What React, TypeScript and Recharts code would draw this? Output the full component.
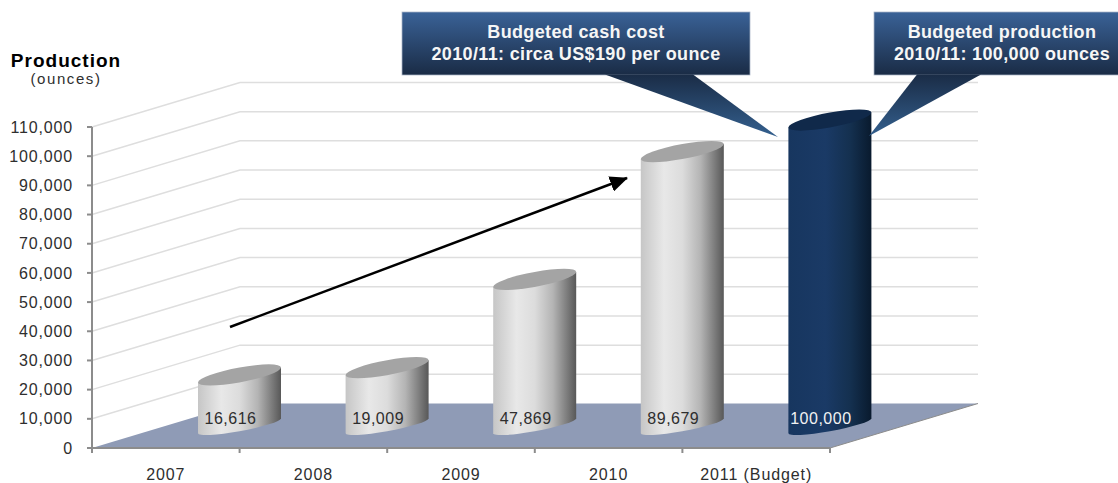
import { Bar, ComposedChart, LabelList, ReferenceLine, XAxis, YAxis } from 'recharts';

const years = ['2007', '2008', '2009', '2010', '2011 (Budget)'];
const productionOunces = [16616, 19009, 47869, 89679, 100000];
const ounceTicks = [0, 10000, 20000, 30000, 40000, 50000, 60000, 70000, 80000, 90000, 100000, 110000];

const chartData = years.map((year, i) => ({ year, ounces: productionOunces[i] }));

const WIDTH = 1118;
const HEIGHT = 483;
const PLOT_LEFT = 92;
const PLOT_TOP = 127;
const PLOT_RIGHT = 830;
const PLOT_BOTTOM = 448;

// how far the back wall sits behind the front plane
const DEPTH_X = 148;
const DEPTH_Y = -44.5;
// columns stand halfway into the floor
const COLUMN_SHEAR = 15 / 83;
const BASE_RY = 5.5;
const CAP_RY = 7.5;

const AXIS_COLOR = '#8c8c8c';
const GRID_COLOR = '#dedede';
const TEXT_COLOR = '#2e2e2e';
const FONT = '"Liberation Sans", Arial, sans-serif';
const BAND = (PLOT_RIGHT - PLOT_LEFT) / years.length;

const WallLine = ({ x1, x2, y1 }: any) => (
  <polyline
    points={`${x1},${y1} ${x1 + DEPTH_X},${y1 + DEPTH_Y} ${x2 + DEPTH_X},${y1 + DEPTH_Y}`}
    fill="none"
    stroke={GRID_COLOR}
    strokeWidth={1.5}
  />
);

const Floor = ({ x1, x2, y1 }: any) => (
  <g>
    <polygon
      points={`${x1},${y1} ${x2},${y1} ${x2 + DEPTH_X},${y1 + DEPTH_Y} ${x1 + DEPTH_X},${y1 + DEPTH_Y}`}
      fill="#8f9bb6"
    />
    <line x1={x2} y1={y1} x2={x2 + DEPTH_X} y2={y1 + DEPTH_Y} stroke={AXIS_COLOR} strokeWidth={1} />
  </g>
);

const Cylinder = ({ x, y, width, height, index }: any) => {
  const budget = index === years.length - 1;
  const a = width / 2;
  const cx = x + a + DEPTH_X / 2;
  const base = y + height + DEPTH_Y / 2;
  return (
    <g transform={`matrix(1,${-COLUMN_SHEAR},0,1,${cx},${base})`}>
      <path
        d={`M${-a},${-height} L${-a},0 A${a},${BASE_RY} 0 0 0 ${a},0 L${a},${-height} Z`}
        fill={budget ? 'url(#navyBody)' : 'url(#greyBody)'}
      />
      <ellipse cx={0} cy={-height} rx={a} ry={CAP_RY} fill={budget ? '#10294a' : '#a4a4a4'} />
    </g>
  );
};

const ValueLabel = ({ x, y, width, height, value, index }: any) => (
  <text
    x={x + width / 2 + DEPTH_X / 2 - 9}
    y={y + height - 24}
    textAnchor="middle"
    fontFamily={FONT}
    fontSize={16}
    letterSpacing={0.5}
    fill={index === years.length - 1 ? '#f2f2f2' : TEXT_COLOR}
  >
    {Number(value).toLocaleString('en-US')}
  </text>
);

const YearTick = ({ x, y, payload, index }: any) => (
  <g>
    <line x1={x - BAND / 2} y1={y} x2={x - BAND / 2} y2={y + 5} stroke={AXIS_COLOR} strokeWidth={2} />
    {index === years.length - 1 && (
      <line x1={x + BAND / 2} y1={y} x2={x + BAND / 2} y2={y + 5} stroke={AXIS_COLOR} strokeWidth={2} />
    )}
    <text x={x} y={y + 32} textAnchor="middle" fontFamily={FONT} fontSize={16} letterSpacing={0.9} fill={TEXT_COLOR}>
      {payload.value}
    </text>
  </g>
);

// box and pointer share one fill so the shading runs through both
const Callout = ({ id, x, width, tail, tip, lines, textX }: any) => (
  <g>
    <defs>
      <linearGradient id={id} gradientUnits="userSpaceOnUse" x1={0} y1={12} x2={0} y2={137}>
        <stop offset="0" stopColor="#3a6297" />
        <stop offset="0.5" stopColor="#1a2c46" />
        <stop offset="1" stopColor="#34608f" />
      </linearGradient>
    </defs>
    <rect x={x} y={12} width={width} height={63} fill={`url(#${id})`} stroke="#a9b6c7" strokeWidth={0.75} />
    <polygon points={`${tail[0]},74.5 ${tail[1]},74.5 ${tip[0]},${tip[1]}`} fill={`url(#${id})`} />
    {lines.map((line: string, i: number) => (
      <text
        key={line}
        x={textX}
        y={38 + i * 22}
        textAnchor="middle"
        fontFamily={FONT}
        fontSize={18}
        fontWeight="bold"
        letterSpacing={0.35}
        fill="#f6f6f6"
      >
        {line}
      </text>
    ))}
  </g>
);

export default function App() {
  return (
    <div style={{ position: 'absolute', left: 0, top: 0, width: WIDTH, height: HEIGHT, background: '#fff', overflow: 'hidden' }}>
      <ComposedChart
        width={WIDTH}
        height={HEIGHT}
        data={chartData}
        margin={{ top: PLOT_TOP, right: WIDTH - PLOT_RIGHT, bottom: 0, left: 0 }}
      >
        <defs>
          <linearGradient id="greyBody" x1="0" y1="0" x2="1" y2="0">
            <stop offset="0" stopColor="#c6c6c6" />
            <stop offset="0.28" stopColor="#e8e8e8" />
            <stop offset="0.5" stopColor="#dcdcdc" />
            <stop offset="0.72" stopColor="#b4b4b4" />
            <stop offset="1" stopColor="#585858" />
          </linearGradient>
          <linearGradient id="navyBody" x1="0" y1="0" x2="1" y2="0">
            <stop offset="0" stopColor="#17365f" />
            <stop offset="0.45" stopColor="#1a3a66" />
            <stop offset="0.75" stopColor="#14304f" />
            <stop offset="1" stopColor="#091a2e" />
          </linearGradient>
        </defs>
        {ounceTicks.map((t) =>
          t === 0 ? null : <ReferenceLine key={t} yAxisId="ounces" y={t} shape={WallLine} zIndex={-100} />
        )}
        <ReferenceLine yAxisId="ounces" y={0} shape={Floor} zIndex={-90} />
        <XAxis
          dataKey="year"
          height={HEIGHT - PLOT_BOTTOM}
          interval={0}
          axisLine={{ stroke: AXIS_COLOR, strokeWidth: 2 }}
          tickLine={false}
          tickSize={0}
          tickMargin={0}
          tick={YearTick}
        />
        <YAxis
          yAxisId="ounces"
          width={PLOT_LEFT}
          domain={[0, 110000]}
          allowDataOverflow
          ticks={ounceTicks}
          interval={0}
          tickFormatter={(v: number) => v.toLocaleString('en-US')}
          axisLine={{ stroke: AXIS_COLOR, strokeWidth: 2 }}
          tickLine={{ stroke: AXIS_COLOR, strokeWidth: 2 }}
          tickSize={5}
          tickMargin={14}
          tick={{ fontFamily: FONT, fontSize: 16, letterSpacing: 0.85, fill: TEXT_COLOR }}
        />
        {/* columns rise a little faster than the wall scale, seen from the front of the floor */}
        <YAxis yAxisId="columns" hide width={0} domain={[0, 105000]} />
        <Bar
          yAxisId="columns"
          dataKey="ounces"
          barSize={83}
          shape={Cylinder}
          isAnimationActive={false}
        >
          <LabelList dataKey="ounces" content={ValueLabel} />
        </Bar>
      </ComposedChart>

      <svg width={WIDTH} height={HEIGHT} style={{ position: 'absolute', left: 0, top: 0, pointerEvents: 'none' }}>
        <defs>
          <marker id="arrowHead" markerUnits="userSpaceOnUse" markerWidth={18} markerHeight={16} refX={17} refY={8} orient="auto">
            <polygon points="0,0 18,8 0,16" fill="#000" />
          </marker>
        </defs>
        <line x1={230} y1={327} x2={627} y2={178} stroke="#000" strokeWidth={2.5} markerEnd="url(#arrowHead)" />
        <text x={66} y={66.5} textAnchor="middle" fontFamily={FONT} fontSize={19} fontWeight="bold" letterSpacing={1} fill="#000">
          Production
        </text>
        <text x={66} y={84} textAnchor="middle" fontFamily={FONT} fontSize={15} letterSpacing={1.6} fill={TEXT_COLOR}>
          (ounces)
        </text>
        <Callout
          id="cashCost"
          x={402}
          width={348}
          tail={[605, 693]}
          tip={[778, 137]}
          textX={576}
          lines={['Budgeted cash cost', '2010/11: circa US$190 per ounce']}
        />
        <Callout
          id="budgetProduction"
          x={874}
          width={250}
          tail={[917, 981]}
          tip={[869, 136]}
          textX={1002}
          lines={['Budgeted production', '2010/11: 100,000 ounces']}
        />
      </svg>
    </div>
  );
}
